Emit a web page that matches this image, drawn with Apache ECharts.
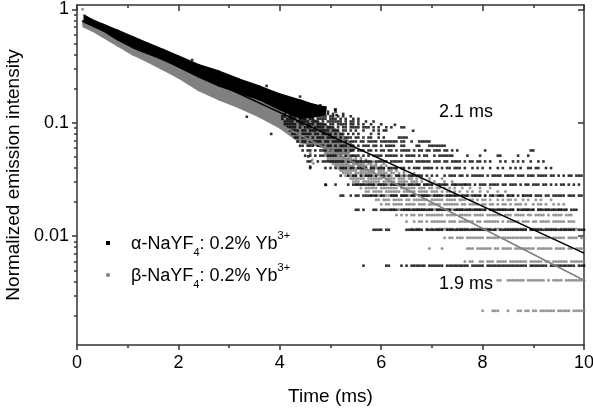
<!DOCTYPE html>
<html><head><meta charset="utf-8">
<script src="https://cdn.jsdelivr.net/npm/echarts@6/dist/echarts.min.js"></script>
<style>html,body{margin:0;padding:0;background:#fff}#c{width:593px;height:409px}</style>
</head><body><div id="c"></div>
<script>
// ---------- axes / ticks ----------
const xMin = 0, xMax = 10, xInterval = 2;
const yMin = 0.0011, yMax = 1.091;
const yTickValues = [0.01, 0.1, 1];
const yMinorTickValues = [0.002,0.003,0.004,0.005,0.006,0.007,0.008,0.009,
  0.02,0.03,0.04,0.05,0.06,0.07,0.08,0.09,0.2,0.3,0.4,0.5,0.6,0.7,0.8,0.9];
const xTitle = 'Time (ms)';
const yTitle = 'Normalized emission intensity';

// ---------- dense early part of the decays (band edges) ----------
const blackBandT  = [0.14,0.3,0.5,0.8,1.1,1.4,1.7,2.0,2.4,2.8,3.2,3.6,4.0,4.4,4.65,4.9];
const blackBandUp = [0.89,0.813,0.745,0.655,0.575,0.504,0.443,0.389,0.326,0.286,0.243,0.211,0.18,0.159,0.146,0.138];
const blackBandLo = [0.775,0.72,0.655,0.536,0.456,0.404,0.358,0.31,0.253,0.211,0.183,0.159,0.13,0.11,0.112,0.119];

const grayBandT  = [0.12,0.3,0.5,0.8,1.1,1.4,1.7,2.0,2.4,2.8,3.2,3.6,4.0,4.4,4.8,5.1,5.35,5.5];
const grayBandUp = [0.80,0.76,0.70,0.61,0.53,0.465,0.41,0.36,0.305,0.26,0.225,0.19,0.16,0.125,0.10,0.088,0.07,0.06];
const grayBandLo = [0.70,0.644,0.57,0.475,0.396,0.343,0.292,0.248,0.192,0.159,0.135,0.112,0.09,0.0665,0.0617,0.053,0.054,0.059];

// ---------- quantised tail rows: level, first time, dot map (one char per 0.05 ms) ----------
const rowStep = 0.05;
const blackRowLevels = [0.0055,0.0114,0.0171,0.0228,0.0285,0.0342,0.0399,0.0456,0.0513,0.057,0.0627,0.0684,
  0.0741,0.0798,0.0855,0.0912,0.0969,0.1026,0.1083,0.114,0.1197,0.1254,0.1311,0.1368,0.1425];
const blackRowStart = [5.65,5.85,5.5,5.2,4.9,5.2,4.6,4.55,4.5,4.45,4.4,4.35,4.3,4.25,4.2,4.15,4.1,4.1,4.05,4.05,4.1,4.2,4.25,4.35,4.4];
const blackRowDots = [
  "#........##....#.#.######.######.#########.#####.################.#######.##########.#####",
  "####.##......#######.#######.####################.###########.##################.#######",
  "##.#...##.#######.#############.######.#############.##########.#######.############.###",
  "##..#.##.######.##..###.###.##.#####.####.#####.###.####.#.##.###.###.#.####.###.##.#####.###.##",
  "#...#....#.#########.####.######.#####.####.#####.########.#.###.####.##.###.#.##.###.##.#.#.##.#.#.#",
  "#..#.##.#.###.#.##.#..##.#.######.#.#.#..#.###.##.#.#####.#.####.####.###.###.####.##.#.#.##.###",
  "#.....#.#.#.###.##.####.##.###.####.##.#.###.####.#.#.##.###.#..#.#.#..#..#.#..#.#.#..##.##..#.#",
  "##..#.#########.##########.#####.#####.###.######.###.##.####.#.##.##.#.#...#.#..#.#.#..#..#.#",
  "#.#.#.##.####.#.#.####.#.#.####.#####.#.####.#.##..#.######.....#....#......##......#...#",
  "#.##.#.###.#.###.#.##.###.##.#.##.##.#.####.#.##.##.###.##.#.#..........#.................##",
  "##.###.###.##.#.###.##.#.###.##.#.####..##....##...#######",
  "#.##.#####.##.####.#.###.##.####.#######.##..#..#####",
  "##.###.#.###.####.#.###.##.#.##..#.#.....####",
  "###.####.##.####.#.##.#.#.#....#..#",
  "####.##.###.####.###.##.#.#..#...#.#.##",
  "####.#.###.####.###.#.##.####.###.#.#..#.#...##",
  "#####.##.###.####.##.####.##.#.#..#...#",
  "####.#####.###.#.######.#.##.#..#..#",
  "#.####.###.##.####.###.#.#..#.#",
  "##.###.##.#.#.####.##.#.#..#",
  "#.###.#..#.#####.#.#...#",
  "##.#.#.#.###.#.#..#",
  "#..#.#..#.##.#...#",
  "#.#.#.#.#..#",
  "#..#.#..#"
];
const grayRowLevels = [0.0022,0.0041,0.006,0.0078,0.0097,0.0116,0.0135,0.0154,0.0172,0.0191,0.021,0.0229,
  0.0248,0.0266,0.0285,0.0304,0.0323,0.0342,0.036,0.0379,0.0398,0.0417,0.0436,0.0454,0.0473,0.0492,
  0.0511,0.053,0.0548,0.0567];
const grayRowStart = [8.0,8.3,7.65,6.95,7.25,6.6,6.5,6.3,6.2,6.0,5.9,5.8,5.7,5.6,5.5,5.45,5.4,5.3,5.25,5.2,
  5.15,5.1,5.05,5.0,4.95,4.95,4.9,4.9,4.9,4.9];
const grayRowDots = [
  "#...###...#...##.##.##.######.#####.#####.#",
  "##..#######.#######.#.####.##############",
  "#.##..##.###.####.#######.#####.##.######.#######.###",
  "#....#.........###.######.##.####.########.######.####.##.#######",
  "#.##.###.#######.#####.############.######.#####.####.#####",
  "#.##..#.#.#######.#####.########.###.#########.#####.#####.#######",
  "#..#.##.#.######.###.######.##.######.#.#####.###.##.####.#####.###",
  "#.#.#.##.##.#######.####.#####.####.######.###.####.##.####.#.####.###",
  "##.#.###.#####.#####.####.###.##.###.#.##.####.##.#.###.#.##.##.#.##.#",
  "#.##.####.####.###.#####.######.##.####.##.##.#.##.#.###.#..#.##.#..#.#.#",
  "##.###.####.##.######.#####.####.###.##.#.##.#..#.#.##.#..#.#..#.#...#",
  "#.###.#####.######.####.####.###.#.##.##.#.#.#..##.#..#.#...#..#",
  "##.####.######.#####.####.###.#.##.#.#..#.#..#..#...#..#",
  "#.#####.#######.######.###.##.##.#.#.#..#..#...#...#",
  "####.#######.#####.####.##.##.#..#.#...#...#",
  "###.#######.#####.####.###.#..#.#...#..#",
  "######.######.####.###.##.#.#..#....#",
  "#####.#######.#####.###.#.#..#",
  "####.########.####.##.#.#...#",
  "#######.######.###.##.#..#",
  "######.#####.####.#.#..#",
  "########.####.###.#.#",
  "#######.#####.##.#..#",
  "#########.###.##.#",
  "########.###.#.#",
  "#######.##.#.#",
  "#######.##.#",
  "######.#.#",
  "#####.#",
  "####"
];
// isolated points
const blackExtra = [[0.59,0.68],[0.95,0.573],[1.38,0.468],[1.91,0.39],[2.27,0.357],[3.74,0.211],
  [3.35,0.113],[3.83,0.0797],[4.4,0.17],[4.85,0.135],[5.09,0.13],[5.12,0.117],[4.56,0.0505],[4.6,0.041],
  [4.91,0.0283],[6.27,0.096],[6.63,0.085]];
const grayExtra = [[0.11,1.0],[4.36,0.0683],[4.6,0.054],[4.64,0.047],[4.66,0.044],[5.84,0.0283]];

// fitted single-exponential lines (end points)
const blackFit = [[0.1,0.79],[10,0.0071]];
const grayFit  = [[0.1,0.75],[10,0.0041]];
const blackLabel = '2.1 ms', grayLabel = '1.9 ms';

// ---------- build ----------
function rowsToPoints(levels, starts, dots) {
  const pts = [];
  levels.forEach((lv, i) => {
    const s = dots[i];
    for (let k = 0; k < s.length; k++) {
      if (s[k] === '#') {
        const t = Math.round((starts[i] + k * rowStep) * 1000) / 1000;
        if (t <= 10) pts.push([t, lv]);
      }
    }
  });
  return pts;
}
const blackPts = rowsToPoints(blackRowLevels, blackRowStart, blackRowDots).concat(blackExtra);
const grayPts = rowsToPoints(grayRowLevels, grayRowStart, grayRowDots).concat(grayExtra);

function bandSeries(T, U, L, color, z) {
  return {
    type: 'custom', silent: true, z: z, animation: false,
    data: T.map((t, i) => [t, U[i], L[i]]),
    encode: { x: 0, y: [1, 2] },
    renderItem(params, api) {
      const i = params.dataIndex;
      if (i >= T.length - 1) return null;
      const pts = [api.coord([T[i], U[i]]), api.coord([T[i+1], U[i+1]]),
                   api.coord([T[i+1], L[i+1]]), api.coord([T[i], L[i]])];
      return { type: 'polygon', shape: { points: pts }, style: { fill: color, stroke: color, lineWidth: 1.2 } };
    }
  };
}

const FONT = 'Arial, "Liberation Sans", sans-serif';
const AX = '#333';
const lineSt = { color: AX, width: 1.5 };

const chart = echarts.init(document.getElementById('c'), null, { renderer: 'canvas' });
chart.setOption({
  animation: false,
  backgroundColor: '#fff',
  grid: { left: 77, right: 9, top: 5, bottom: 64, containLabel: false, outerBoundsMode: 'none' },
  xAxis: [
    { type: 'value', min: xMin, max: xMax, interval: xInterval, position: 'bottom',
      axisLine: { show: true, onZero: false, lineStyle: lineSt },
      axisTick: { show: true, inside: false, length: 5, lineStyle: lineSt },
      minorTick: { show: true, splitNumber: 2, length: 3, lineStyle: lineSt },
      axisLabel: { fontSize: 18, color: '#000', fontFamily: FONT, margin: 9 },
      splitLine: { show: false }, minorSplitLine: { show: false },
      name: xTitle, nameLocation: 'middle', nameGap: 42,
      nameTextStyle: { fontSize: 19, color: '#000', fontFamily: FONT } },
    { type: 'value', min: xMin, max: xMax, interval: xInterval, position: 'top',
      axisLine: { show: true, onZero: false, lineStyle: lineSt },
      axisTick: { show: true, inside: true, length: 6, lineStyle: lineSt },
      minorTick: { show: true, splitNumber: 2, length: 3, lineStyle: lineSt },
      axisLabel: { show: false }, splitLine: { show: false } }
  ],
  yAxis: [
    { type: 'log', logBase: 10, min: yMin, max: yMax, position: 'left',
      axisLine: { show: true, onZero: false, lineStyle: lineSt },
      axisTick: { show: true, inside: false, length: 5, customValues: yTickValues, lineStyle: lineSt },
      axisLabel: { customValues: yTickValues, fontSize: 18, color: '#000', fontFamily: FONT, margin: 8,
        formatter: v => String(Number(Number(v).toPrecision(3))) },
      splitLine: { show: false },
      name: yTitle, nameLocation: 'middle', nameGap: 41,
      nameTextStyle: { fontSize: 19, color: '#000', fontFamily: FONT } },
    { type: 'log', logBase: 10, min: yMin, max: yMax, position: 'left',
      axisLine: { show: false },
      axisTick: { show: true, inside: false, length: 3, customValues: yMinorTickValues, lineStyle: lineSt },
      axisLabel: { show: false }, splitLine: { show: false } },
    { type: 'log', logBase: 10, min: yMin, max: yMax, position: 'right',
      axisLine: { show: true, onZero: false, lineStyle: lineSt },
      axisTick: { show: true, inside: true, length: 6, customValues: yTickValues, lineStyle: lineSt },
      axisLabel: { show: false }, splitLine: { show: false } },
    { type: 'log', logBase: 10, min: yMin, max: yMax, position: 'right',
      axisLine: { show: false },
      axisTick: { show: true, inside: true, length: 3, customValues: yMinorTickValues, lineStyle: lineSt },
      axisLabel: { show: false }, splitLine: { show: false } }
  ],
  series: [
    bandSeries(grayBandT, grayBandUp, grayBandLo, '#808080', 1),
    { type: 'scatter', name: 'beta', data: grayPts, symbol: 'circle', symbolSize: 3,
      itemStyle: { color: '#808080' }, silent: true, z: 2 },
    bandSeries(blackBandT, blackBandUp, blackBandLo, '#000', 3),
    { type: 'scatter', name: 'alpha', data: blackPts, symbol: 'rect', symbolSize: 2.6,
      itemStyle: { color: '#000' }, silent: true, z: 4 },
    { type: 'line', data: grayFit, showSymbol: false, symbol: 'none', silent: true, z: 5,
      lineStyle: { color: '#808080', width: 1.6 } },
    { type: 'line', data: blackFit, showSymbol: false, symbol: 'none', silent: true, z: 6,
      lineStyle: { color: '#000', width: 1.6 } }
  ],
  graphic: [
    { type: 'text', x: 466, y: 112.5, z: 10,
      style: { text: blackLabel, font: '18px ' + FONT, fill: '#000', align: 'center', verticalAlign: 'middle' } },
    { type: 'text', x: 466, y: 284, z: 10,
      style: { text: grayLabel, font: '18px ' + FONT, fill: '#000', align: 'center', verticalAlign: 'middle' } },
    { type: 'rect', shape: { x: 106, y: 241, width: 4, height: 4 }, style: { fill: '#000' }, z: 10 },
    { type: 'circle', shape: { cx: 108, cy: 275, r: 2 }, style: { fill: '#808080' }, z: 10 },
    { type: 'text', x: 131, y: 244, z: 10,
      style: { text: '{a|α-NaYF}{b|4}{a|: 0.2% Yb}{c|3+}', fill: '#000', verticalAlign: 'middle', align: 'left',
        rich: { a: { fontSize: 18, fontFamily: FONT, lineHeight: 28 },
                b: { fontSize: 11, fontFamily: FONT, lineHeight: 11, verticalAlign: 'bottom' },
                c: { fontSize: 11, fontFamily: FONT, lineHeight: 11, verticalAlign: 'top' } } } },
    { type: 'text', x: 131, y: 276.5, z: 10,
      style: { text: '{a|β-NaYF}{b|4}{a|: 0.2% Yb}{c|3+}', fill: '#000', verticalAlign: 'middle', align: 'left',
        rich: { a: { fontSize: 18, fontFamily: FONT, lineHeight: 28 },
                b: { fontSize: 11, fontFamily: FONT, lineHeight: 11, verticalAlign: 'bottom' },
                c: { fontSize: 11, fontFamily: FONT, lineHeight: 11, verticalAlign: 'top' } } } }
  ]
});
</script>
</body></html>
